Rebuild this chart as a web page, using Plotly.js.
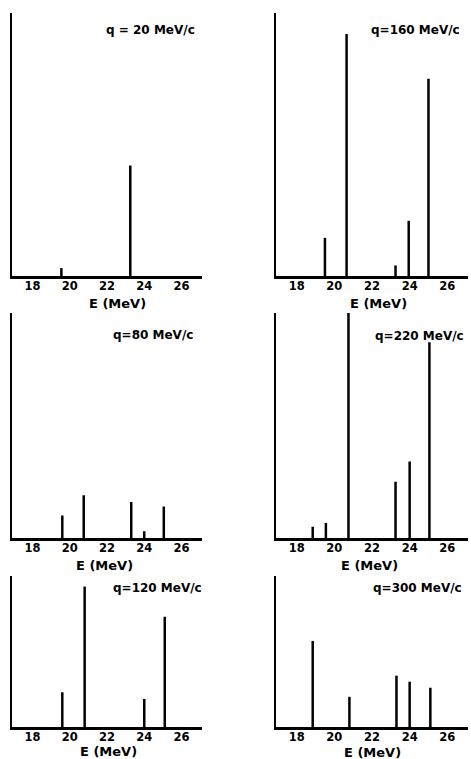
<!DOCTYPE html>
<html>
<head>
<meta charset="utf-8">
<script src="https://cdn.plot.ly/plotly-3.0.1.min.js"></script>
<style>
  html, body { margin: 0; padding: 0; background: #fff; }
  #chart { width: 471px; height: 759px; }
</style>
</head>
<body>
<div id="chart"></div>
<script>
// Excitation energies (MeV) and relative strengths (fraction of panel height) for each momentum transfer
const panelLabels = ["q = 20 MeV/c", "q=160 MeV/c", "q=80 MeV/c", "q=220 MeV/c", "q=120 MeV/c", "q=300 MeV/c"];

const q20_E = [19.55, 23.25];
const q20_S = [0.03, 0.42];

const q160_E = [19.5, 20.65, 23.25, 23.95, 25.0];
const q160_S = [0.145, 0.92, 0.04, 0.21, 0.75];

const q80_E = [19.6, 20.75, 23.3, 24.0, 25.05];
const q80_S = [0.10, 0.19, 0.16, 0.03, 0.14];

const q220_E = [18.85, 19.55, 20.75, 23.25, 24.0, 25.05];
const q220_S = [0.05, 0.067, 1.0, 0.25, 0.34, 0.87];

const q120_E = [19.6, 20.8, 24.0, 25.1];
const q120_S = [0.23, 0.93, 0.185, 0.73];

const q300_E = [18.85, 20.8, 23.3, 24.0, 25.1];
const q300_S = [0.57, 0.20, 0.34, 0.30, 0.26];

const tickVals = [18, 20, 22, 24, 26];
const tickText = ["18", "20", "22", "24", "26"];
const xTitle = "E (MeV)";

const panels = [
  {E: q20_E, S: q20_S},
  {E: q160_E, S: q160_S},
  {E: q80_E, S: q80_S},
  {E: q220_E, S: q220_S},
  {E: q120_E, S: q120_S},
  {E: q300_E, S: q300_S}
];

// Layout geometry (paper fractions)
const W = 471, H = 759;
const colDom = [[12 / W, 202 / W], [276 / W, 468 / W]];
const rowDom = [
  [(H - 276) / H, (H - 13) / H],
  [(H - 538) / H, (H - 313) / H],
  [(H - 727) / H, (H - 576) / H]
];
const labelPos = [
  {x: 150, y: 30}, {x: 415, y: 30},
  {x: 153, y: 335}, {x: 419, y: 336},
  {x: 157, y: 588}, {x: 417, y: 588}
];
const titlePos = [
  {x: 117, y: 303}, {x: 378, y: 303},
  {x: 104, y: 565}, {x: 369, y: 565},
  {x: 108, y: 751}, {x: 372, y: 752}
];

const font = {family: "DejaVu Sans, Verdana, sans-serif", color: "#000", weight: "bold"};

const traces = [];
const layout = {
  width: W, height: H,
  margin: {l: 0, r: 0, t: 0, b: 0},
  paper_bgcolor: "#fff", plot_bgcolor: "#fff",
  showlegend: false,
  annotations: []
};

panels.forEach((p, i) => {
  const n = i + 1;
  const xs = [], ys = [];
  p.E.forEach((e, k) => { xs.push(e, e, null); ys.push(0, p.S[k], null); });
  traces.push({
    type: "scatter", mode: "lines",
    x: xs, y: ys,
    xaxis: "x" + n, yaxis: "y" + n,
    line: {color: "#000", width: 2.5},
    hoverinfo: "skip"
  });
  const col = i % 2, row = Math.floor(i / 2);
  layout["xaxis" + n] = {
    domain: colDom[col],
    anchor: "y" + n,
    range: [16.9, 27.1],
    showgrid: false, zeroline: false,
    showline: true, linecolor: "#000", linewidth: 2.5,
    ticks: "", tickvals: tickVals, ticktext: tickText,
    ticklabelstandoff: -2,
    tickfont: Object.assign({size: 11.5}, font),
    fixedrange: true
  };
  layout["yaxis" + n] = {
    domain: rowDom[row],
    anchor: "x" + n,
    range: [0, 1],
    showgrid: false, zeroline: false,
    showline: true, linecolor: "#000", linewidth: 2.5,
    ticks: "", showticklabels: false,
    fixedrange: true
  };
  layout.annotations.push({
    xref: "paper", yref: "paper",
    x: labelPos[i].x / W, y: 1 - labelPos[i].y / H,
    xanchor: "center", yanchor: "middle",
    text: panelLabels[i], showarrow: false,
    font: Object.assign({size: 12}, font)
  });
  layout.annotations.push({
    xref: "paper", yref: "paper",
    x: titlePos[i].x / W, y: 1 - titlePos[i].y / H,
    xanchor: "center", yanchor: "middle",
    text: xTitle, showarrow: false,
    font: Object.assign({size: 13}, font)
  });
});

Plotly.newPlot("chart", traces, layout, {displayModeBar: false, staticPlot: true});
</script>
</body>
</html>
